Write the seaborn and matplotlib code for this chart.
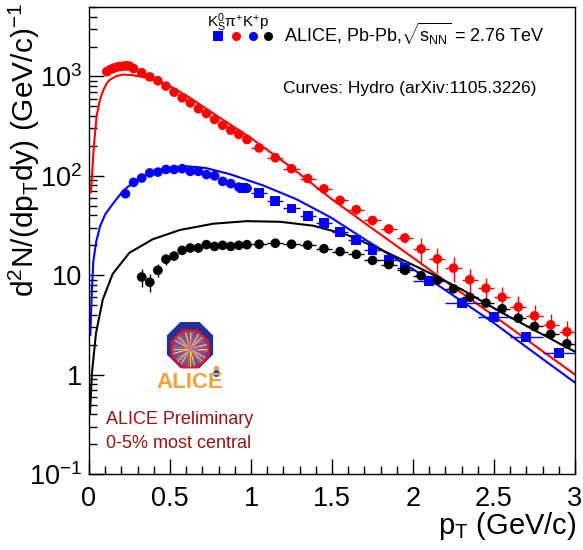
import numpy as np
import pandas as pd
import matplotlib
matplotlib.use("Agg")
import matplotlib.pyplot as plt
import seaborn as sns
from matplotlib.lines import Line2D
from matplotlib.patches import RegularPolygon
from matplotlib.ticker import FixedLocator, FixedFormatter, MultipleLocator, LogLocator, NullFormatter

# ---------------- data ----------------
pi_pt = [0.11, 0.13, 0.15, 0.17, 0.19, 0.21, 0.23, 0.25, 0.275, 0.325, 0.375, 0.425, 0.475,
         0.525, 0.575, 0.625, 0.675, 0.725, 0.775, 0.825, 0.875, 0.925, 0.975,
         1.05, 1.15, 1.25, 1.35, 1.45, 1.55, 1.65, 1.75, 1.85, 1.95,
         2.05, 2.15, 2.25, 2.35, 2.45, 2.55, 2.65, 2.75, 2.85, 2.95]
pi_y = [1120, 1170, 1210, 1240, 1260, 1270, 1280, 1270, 1200, 1090, 990, 905, 800,
        695, 610, 543, 473, 424, 369, 323, 288, 261, 232,
        191, 152, 118, 94, 74, 56.7, 45.7, 35.6, 29.2, 23.7,
        18.4, 14.6, 11.8, 9.0, 7.4, 6.0, 4.8, 3.9, 3.17, 2.7]
pi_rel = [0.05] * 8 + [0.04] * 15 + [0.05] * 5 + [0.11] * 5 + [0.28] * 10

kch_pt = [0.225, 0.275, 0.325, 0.375, 0.425, 0.475, 0.525, 0.575, 0.625, 0.675,
          0.725, 0.775, 0.825, 0.875, 0.925, 0.975]
kch_y = [66, 86, 95, 107, 109, 116, 116, 118, 111, 111, 103, 100, 88, 83.5, 77, 75]
kch_rel = [0.07] * 16

k0s_pt = [0.95, 1.05, 1.15, 1.25, 1.35, 1.45, 1.55, 1.65, 1.75, 1.85, 1.95, 2.1, 2.3, 2.5, 2.7, 2.9]
k0s_y = [75, 67, 55.5, 47, 39.2, 33.3, 27.4, 22.6, 17.8, 14.3, 11.8, 8.8, 5.25, 3.8, 2.4, 1.65]
k0s_binw = [0.1] * 11 + [0.2] * 5
k0s_rel = [0.05] * 16

p_pt = [0.325, 0.375, 0.425, 0.475, 0.525, 0.575, 0.625, 0.675, 0.725, 0.775, 0.825, 0.875,
        0.925, 0.975, 1.05, 1.15, 1.25, 1.35, 1.45, 1.55, 1.65, 1.75, 1.85, 1.95,
        2.05, 2.15, 2.25, 2.35, 2.45, 2.55, 2.65, 2.75, 2.85, 2.95]
p_y = [9.6, 8.5, 11.2, 14.5, 15.6, 17.8, 18.8, 18.8, 20.3, 19.5, 20, 19.5,
       20, 20.3, 20.5, 21, 20.5, 20.1, 18.5, 17.3, 16.2, 14.1, 12.8, 11.2,
       9.9, 8.9, 7.3, 6.0, 5.25, 4.6, 3.7, 3.05, 2.55, 2.04]
p_rel = [0.2, 0.2, 0.15, 0.12] + [0.08] * 14 + [0.06] * 16

# hydro curves
hpi_pt = [0.012, 0.03, 0.047, 0.068, 0.09, 0.11, 0.13, 0.17, 0.21, 0.26, 0.36, 0.48, 0.6, 0.8,
          1.0, 1.25, 1.5, 1.75, 2.0, 2.25, 2.5, 2.75, 3.0]
hpi_y = [68, 200, 400, 590, 740, 860, 930, 1010, 1045, 1035, 970, 830, 645, 392,
         240, 121, 58, 29.4, 15.0, 7.6, 3.9, 1.97, 1.0]
hk_pt = [0.008, 0.017, 0.027, 0.045, 0.068, 0.1, 0.146, 0.208, 0.28, 0.36, 0.48, 0.6, 0.72,
         0.87, 1.076, 1.282, 1.488, 1.693, 1.899, 2.105, 2.5, 2.75, 3.0]
hk_y = [2.5, 6.6, 14, 22, 31, 41, 52, 70, 88, 105, 120, 125, 120,
        104, 80, 58, 38.5, 23.5, 14.5, 9.0, 3.3, 1.65, 0.83]
hp_pt = [0.006, 0.018, 0.043, 0.085, 0.146, 0.249, 0.393, 0.56, 0.767, 0.973, 1.18, 1.384,
         1.59, 1.796, 2.105, 2.3, 2.537, 2.75, 3.0]
hp_y = [0.41, 1.03, 2.6, 5.7, 10.3, 16.8, 23.0, 28.5, 33.0, 35.0, 34.5, 31.5,
        25.6, 18.3, 10.5, 7.2, 4.3, 2.8, 1.7]

x_ticks = [0, 0.5, 1, 1.5, 2, 2.5, 3]
x_tick_labels = ["0", "0.5", "1", "1.5", "2", "2.5", "3"]
y_ticks = [0.1, 1, 10, 100, 1000]
y_tick_labels = ["10$^{-1}$", "1", "10", "10$^{2}$", "10$^{3}$"]

# ---------------- style ----------------
sns.set_theme(style="white")
plt.rcParams["font.family"] = ["Liberation Sans", "DejaVu Sans"]
plt.rcParams["mathtext.fontset"] = "custom"
plt.rcParams["mathtext.rm"] = "Liberation Sans"
plt.rcParams["mathtext.it"] = "Liberation Sans"
plt.rcParams["mathtext.bf"] = "Liberation Sans:bold"

W, H = 583, 550
fig = plt.figure(figsize=(W / 100, H / 100), dpi=100)
fig.patch.set_facecolor("white")

def fx(px):
    return px / W

def fy(py):
    return 1 - py / H

ax = fig.add_axes([fx(89), fy(474), (575 - 89) / W, (474 - 7) / H])
ax.set_facecolor("white")

# hydro curves
for xs, ys, col in [(hpi_pt, hpi_y, "#ff0000"), (hk_pt, hk_y, "#0000ff"), (hp_pt, hp_y, "black")]:
    dfc = pd.DataFrame({"pt": xs, "y": ys})
    sns.lineplot(data=dfc, x="pt", y="y", ax=ax, color=col, lw=1.5,
                 estimator=None, sort=False, zorder=2)

def xerr_from(pt):
    out = []
    for v in pt:
        if v < 0.26:
            out.append(0.01)
        elif v < 1.0:
            out.append(0.025)
        else:
            out.append(0.05)
    return out

def draw_points(pt, y, rel, xerr, col, marker, size):
    pt = np.array(pt); y = np.array(y); rel = np.array(rel)
    ax.errorbar(pt, y, yerr=y * rel, xerr=xerr, fmt="none", ecolor=col,
                elinewidth=1.0, capsize=0, zorder=3)
    dfp = pd.DataFrame({"pt": pt, "y": y})
    sns.scatterplot(data=dfp, x="pt", y="y", ax=ax, color=col, marker=marker,
                    s=size, edgecolor="none", linewidth=0, zorder=4)

draw_points(k0s_pt, k0s_y, k0s_rel, np.array(k0s_binw) / 2, "#0000ff", "s", 50)
draw_points(p_pt, p_y, p_rel, xerr_from(p_pt), "black", "o", 48)
draw_points(kch_pt, kch_y, kch_rel, xerr_from(kch_pt), "#0000ff", "o", 48)
draw_points(pi_pt, pi_y, pi_rel, xerr_from(pi_pt), "#ff0000", "o", 48)

ax.set_yscale("log")
ax.set_xlim(0, 3)
ax.set_ylim(0.1, 5000)
ax.set_xlabel("")
ax.set_ylabel("")

ax.xaxis.set_major_locator(FixedLocator(x_ticks))
ax.xaxis.set_major_formatter(FixedFormatter(x_tick_labels))
ax.xaxis.set_minor_locator(MultipleLocator(0.1))
ax.yaxis.set_major_locator(FixedLocator(y_ticks))
ax.yaxis.set_major_formatter(FixedFormatter(y_tick_labels))
ax.yaxis.set_minor_locator(LogLocator(base=10, subs=range(2, 10), numticks=20))
ax.yaxis.set_minor_formatter(NullFormatter())

ax.tick_params(which="both", direction="in", bottom=True, left=True, top=False, right=False,
               color="black", width=1)
ax.tick_params(which="major", length=11, labelsize=19.5, labelcolor="black")
ax.tick_params(which="minor", length=5.5)
ax.tick_params(axis="x", which="major", pad=9)
ax.tick_params(axis="y", which="major", pad=5)
for sp in ax.spines.values():
    sp.set_color("black")
    sp.set_linewidth(1.0)
    sp.set_visible(True)

# ---------------- texts ----------------
fig.text(fx(24), fy(3), "d$^{2}$N/(dp$_{T}$dy) (GeV/c)$^{-1}$", rotation=90,
         ha="center", va="top", fontsize=21.5, color="black")
fig.text(fx(576), fy(534), "p$_{T}$ (GeV/c)", ha="right", va="baseline",
         fontsize=21, color="black")

fig.text(fx(207), fy(27), "K$^{0}_{S}$π$^{+}$K$^{+}$p", fontsize=11, va="baseline", color="black")
for px, col, mk in [(218, "#0000ff", "s"), (236, "#ff0000", "o"), (253, "#0000ff", "o"), (268, "black", "o")]:
    fig.add_artist(Line2D([fx(px)], [fy(36)], marker=mk, markersize=6.5, color=col,
                          markeredgewidth=0, linestyle="none", transform=fig.transFigure))
fig.text(fx(284), fy(34), "ALICE, Pb-Pb,$\\sqrt{s_{NN}}$ = 2.76 TeV", fontsize=13,
         va="center", color="black")
fig.text(fx(283), fy(88), "Curves: Hydro (arXiv:1105.3226)", fontsize=12.5,
         va="center", color="black")
fig.text(fx(106), fy(420), "ALICE Preliminary", fontsize=13, va="center", color="#991111")
fig.text(fx(106), fy(443), "0-5% most central", fontsize=13, va="center", color="#991111")

# ---------------- ALICE logo ----------------
lax = fig.add_axes([fx(153), fy(392), 75 / W, 70 / H])
lax.set_xlim(0, 75)
lax.set_ylim(70, 0)
lax.axis("off")
lax.add_patch(RegularPolygon((37, 23), numVertices=8, radius=25, orientation=np.pi / 8,
                             facecolor="#24309a", edgecolor="none"))
lax.add_patch(RegularPolygon((37, 27), numVertices=8, radius=21, orientation=np.pi / 8,
                             facecolor="#e8141c", edgecolor="none"))
lax.add_patch(RegularPolygon((37, 27), numVertices=8, radius=18.5, orientation=np.pi / 8,
                             facecolor="#5a3fa8", edgecolor="none"))
ray_cols = ["#ffd23c", "#ff7a1a", "#3a6cff", "#ff3a3a", "#ffe060", "#8a5cff"]
for i in range(48):
    a = 2 * np.pi * i / 48
    lax.plot([37, 37 + 17 * np.cos(a)], [27, 27 + 17 * np.sin(a)],
             color=ray_cols[i % len(ray_cols)], lw=0.8)
lax.add_patch(matplotlib.patches.Circle((37, 27), 4, facecolor="#ffcc33", edgecolor="none"))
lax.plot([63], [46], marker="o", markersize=3, color="#f0a030")
lax.plot([63], [51], marker="o", markersize=4, color="#2050b0")
lax.text(37, 61, "ALICE", ha="center", va="center", fontsize=16, fontweight="bold",
         color="#f7a035")

fig.savefig("out.png", dpi=100, facecolor="white")
